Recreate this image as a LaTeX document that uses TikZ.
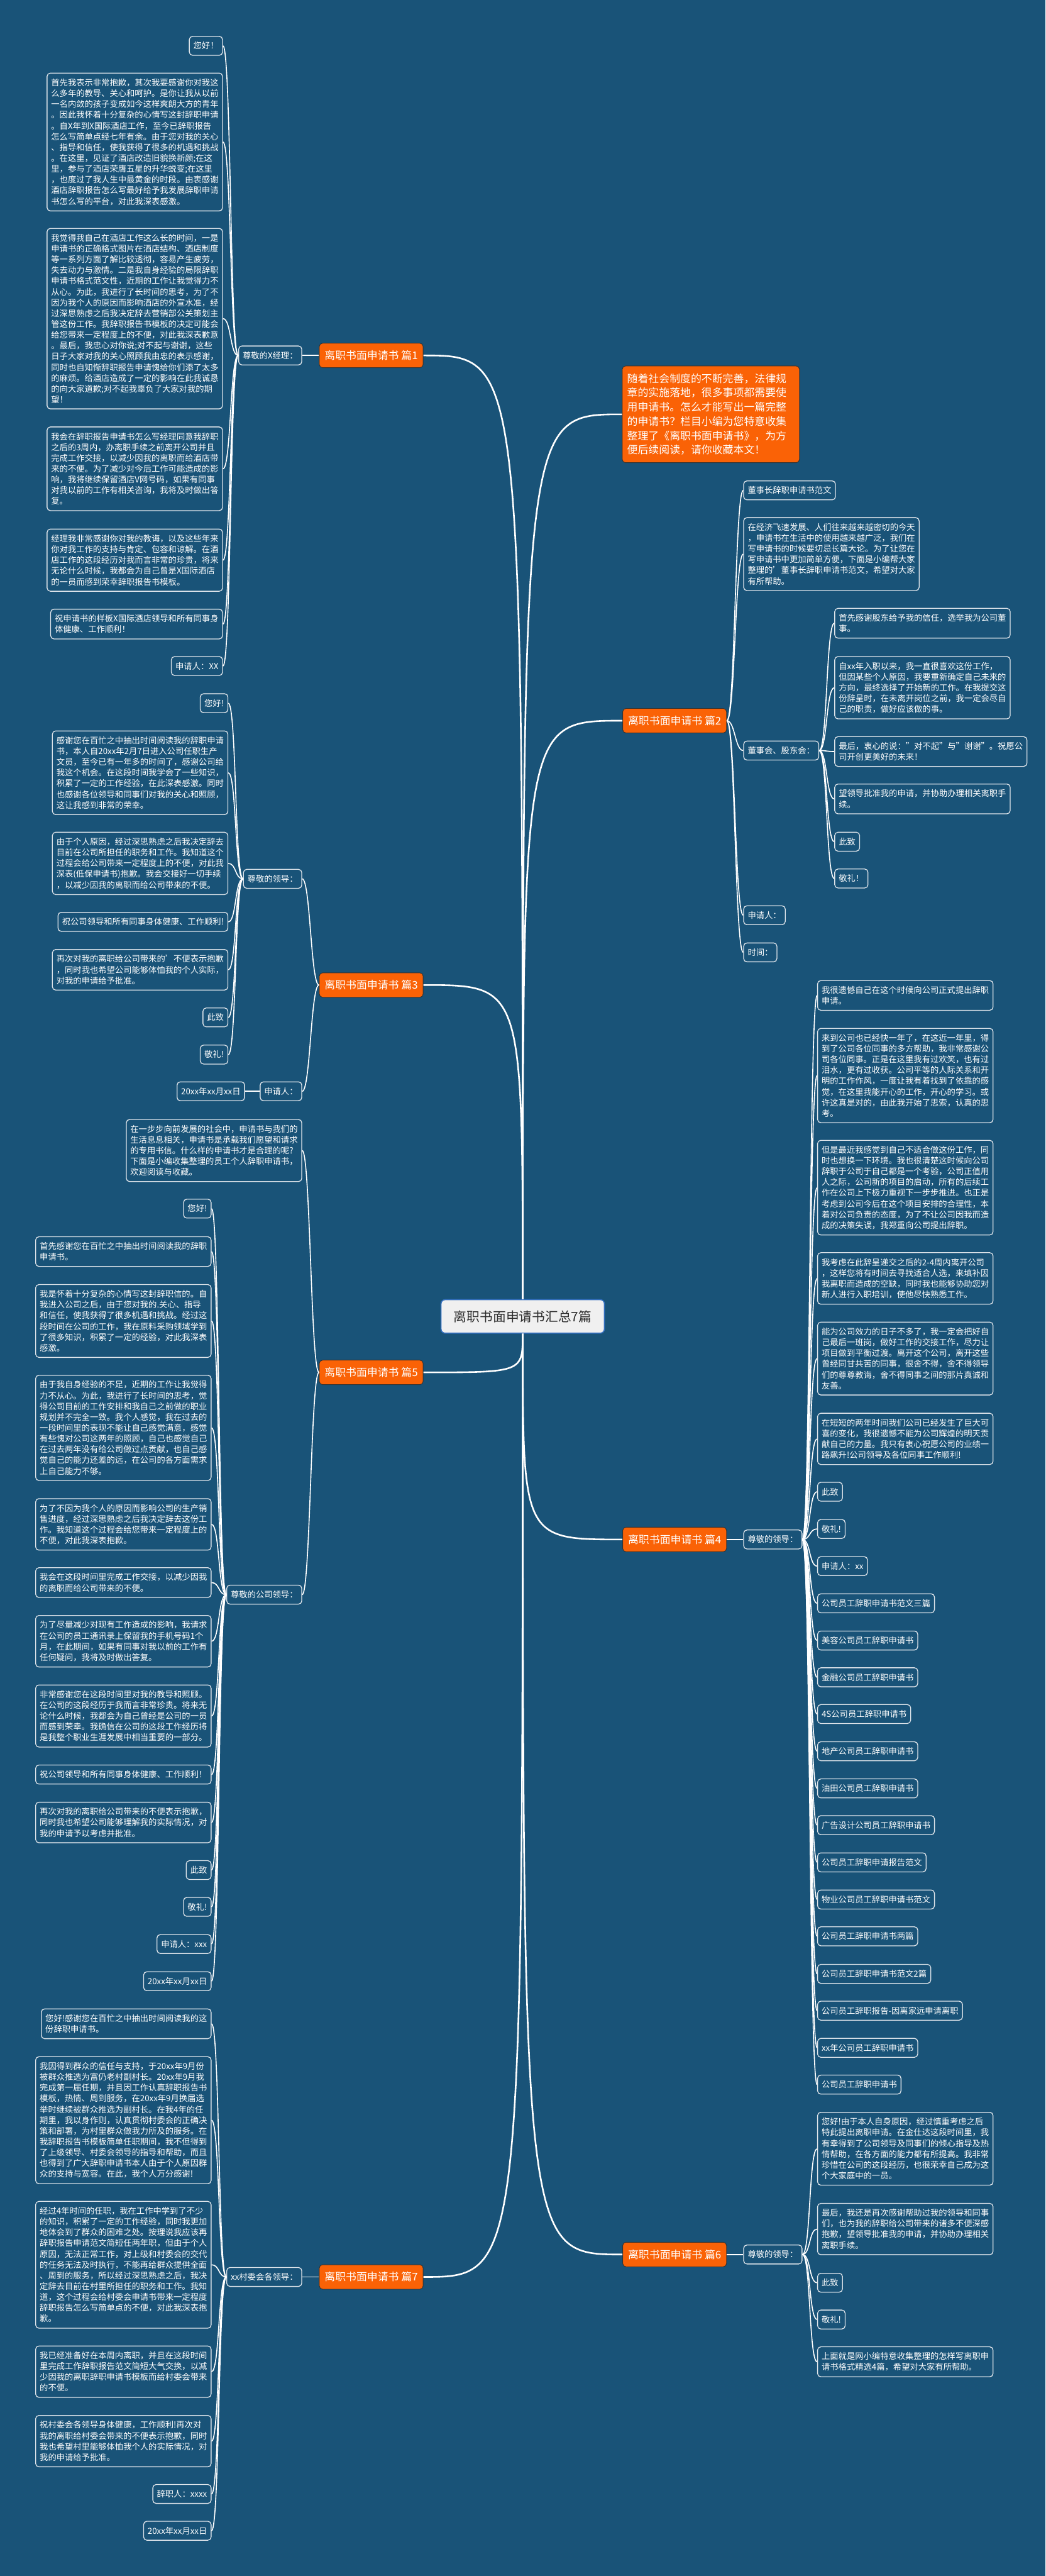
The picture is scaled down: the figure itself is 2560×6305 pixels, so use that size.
\documentclass[tikz,border=0pt]{standalone}
\usepackage{fontspec}
\setmainfont{Noto Sans CJK SC}
\usepackage{tikz}
\definecolor{bgblue}{RGB}{25,83,120}
\definecolor{boxline}{RGB}{222,228,234}
\definecolor{branchorange}{RGB}{250,98,6}
\definecolor{rootgray}{RGB}{240,240,240}
\definecolor{rootblue}{RGB}{52,112,192}
\definecolor{roottext}{RGB}{45,45,45}
\newcommand{\boxfont}{\fontsize{11.66pt}{15.02pt}\selectfont}
\newcommand{\branchfont}{\fontsize{14.8pt}{18pt}\selectfont}
\newcommand{\rootfont}{\fontsize{18.2pt}{22pt}\selectfont}
\newcommand{\introfont}{\fontsize{14.8pt}{19.92pt}\selectfont}

\begin{document}
\begin{tikzpicture}
	[x=0.02cm,y=-0.02cm,
	leaf/.style={draw=boxline,line width=0.04cm,rounded corners=0.16cm,text=white,align=left,inner xsep=0.2cm,inner ysep=7.8pt,font=\boxfont},
	branch/.style={fill=branchorange,draw=black!80,line width=0.03cm,rounded corners=0.16cm,text=white,font=\branchfont,inner xsep=0.26cm,minimum height=1.2cm},
	root/.style={fill=rootgray,draw=rootblue,line width=0.05cm,rounded corners=0.2cm,text=roottext,font=\rootfont,minimum width=8cm,minimum height=1.64cm},
	intro/.style={fill=branchorange,draw=black!80,line width=0.03cm,rounded corners=0.16cm,text=white,font=\introfont,align=left,text width=8.2cm,inner xsep=0.24cm,inner ysep=10.5pt},
	trunk/.style={draw=white,line width=0.08cm},
	link/.style={draw=white,line width=0.05cm},
	tol/.style={to path={.. controls +(-20,0) and +(20,0) .. (\tikztotarget)}},
	tor/.style={to path={.. controls +(20,0) and +(-20,0) .. (\tikztotarget)}}]
	\fill[bgblue] (0,0) rectangle (2560,6305);
	\node[root] (root) at (1280,3222) {离职书面申请书汇总7篇};

	\node[branch] (p1) at (909,870) {离职书面申请书 篇1};
	\node[leaf,anchor=east] (label1) at (740,870) {尊敬的X经理：};
	\node[leaf,anchor=north east] (n1a) at (546,88) {您好！};
	\node[leaf,anchor=north east] (n1b) at (546,178) {首先我表示非常抱歉，其次我要感谢你对我这\\么多年的教导、关心和呵护。是你让我从以前\\一名内敛的孩子变成如今这样爽朗大方的青年\\。因此我怀着十分复杂的心情写这封辞职申请\\。自X年到X国际酒店工作，至今已辞职报告\\怎么写简单点经七年有余。由于您对我的关心\\、指导和信任，使我获得了很多的机遇和挑战\\。在这里，见证了酒店改造旧貌换新颜;在这\\里，参与了酒店荣膺五星的升华蜕变;在这里\\，也度过了我人生中最黄金的时段。由衷感谢\\酒店辞职报告怎么写最好给予我发展辞职申请\\书怎么写的平台，对此我深表感激。};
	\node[leaf,anchor=north east] (n1c) at (546,558) {我觉得我自己在酒店工作这么长的时间，一是\\申请书的正确格式图片在酒店结构、酒店制度\\等一系列方面了解比较透彻，容易产生疲劳，\\失去动力与激情。二是我自身经验的局限辞职\\申请书格式范文性，近期的工作让我觉得力不\\从心。为此，我进行了长时间的思考，为了不\\因为我个人的原因而影响酒店的外宣水准，经\\过深思熟虑之后我决定辞去营销部公关策划主\\管这份工作。我辞职报告书模板的决定可能会\\给您带来一定程度上的不便，对此我深表歉意\\。最后，我忠心对你说;对不起与谢谢，这些\\日子大家对我的关心照顾我由忠的表示感谢，\\同时也自知惭辞职报告申请愧给你们添了太多\\的麻烦。给酒店造成了一定的影响在此我诚恳\\的向大家道歉;对不起我辜负了大家对我的期\\望！};
	\node[leaf,anchor=north east] (n1d) at (546,1044) {我会在辞职报告申请书怎么写经理同意我辞职\\之后的3周内，办离职手续之前离开公司并且\\完成工作交接，以减少因我的离职而给酒店带\\来的不便。为了减少对今后工作可能造成的影\\响，我将继续保留酒店V网号码，如果有同事\\对我以前的工作有相关咨询，我将及时做出答\\复。};
	\node[leaf,anchor=north east] (n1e) at (546,1294) {经理我非常感谢你对我的教诲，以及这些年来\\你对我工作的支持与肯定、包容和谅解。在酒\\店工作的这段经历对我而言非常的珍贵，将来\\无论什么时候，我都会为自己曾是X国际酒店\\的一员而感到荣幸辞职报告书模板。};
	\node[leaf,anchor=north east] (n1f) at (546,1490) {祝申请书的样板X国际酒店领导和所有同事身\\体健康、工作顺利！};
	\node[leaf,anchor=north east] (n1g) at (546,1606) {申请人：XX};

	\node[branch] (p3) at (909,2411) {离职书面申请书 篇3};
	\node[leaf,anchor=east] (label3) at (740,2151) {尊敬的领导：};
	\node[leaf,anchor=east] (n3h) at (740,2671) {申请人：};
	\node[leaf,anchor=east] (n3i) at (600,2671) {20xx年xx月xx日};
	\node[leaf,anchor=north east] (n3a) at (559,1697) {您好!};
	\node[leaf,anchor=north east] (n3b) at (559,1788) {感谢您在百忙之中抽出时间阅读我的辞职申请\\书，本人自20xx年2月7日进入公司任职生产\\文员，至今已有一年多的时间了，感谢公司给\\我这个机会。在这段时间我学会了一些知识，\\积累了一定的工作经验，在此深表感激。同时\\也感谢各位领导和同事们对我的关心和照顾，\\这让我感到非常的荣幸。};
	\node[leaf,anchor=north east] (n3c) at (559,2036) {由于个人原因，经过深思熟虑之后我决定辞去\\目前在公司所担任的职务和工作。我知道这个\\过程会给公司带来一定程度上的不便，对此我\\深表(低保申请书)抱歉。我会交接好一切手续\\，以减少因我的离职而给公司带来的不便。};
	\node[leaf,anchor=north east] (n3d) at (559,2232) {祝公司领导和所有同事身体健康、工作顺利!};
	\node[leaf,anchor=north east] (n3e) at (559,2323) {再次对我的离职给公司带来的'不便表示抱歉\\，同时我也希望公司能够体恤我的个人实际，\\对我的申请给予批准。};
	\node[leaf,anchor=north east] (n3f) at (559,2466) {此致};
	\node[leaf,anchor=north east] (n3g) at (559,2557) {敬礼!};

	\node[branch] (p5) at (909,3359) {离职书面申请书 篇5};
	\node[leaf,anchor=north east] (n5x) at (740,2739) {在一步步向前发展的社会中，申请书与我们的\\生活息息相关，申请书是承载我们愿望和请求\\的专用书信。什么样的申请书才是合理的呢?\\下面是小编收集整理的员工个人辞职申请书，\\欢迎阅读与收藏。};
	\node[leaf,anchor=east] (label5) at (740,3903) {尊敬的公司领导：};
	\node[leaf,anchor=north east] (n5a) at (518,2934) {您好!};
	\node[leaf,anchor=north east] (n5b) at (518,3026) {首先感谢您在百忙之中抽出时间阅读我的辞职\\申请书。};
	\node[leaf,anchor=north east] (n5c) at (518,3143) {我是怀着十分复杂的心情写这封辞职信的。自\\我进入公司之后，由于您对我的.关心、指导\\和信任，使我获得了很多机遇和挑战。经过这\\段时间在公司的工作，我在原料采购领域学到\\了很多知识，积累了一定的经验，对此我深表\\感激。};
	\node[leaf,anchor=north east] (n5d) at (518,3365) {由于我自身经验的不足，近期的工作让我觉得\\力不从心。为此，我进行了长时间的思考，觉\\得公司目前的工作安排和我自己之前做的职业\\规划并不完全一致。我个人感觉，我在过去的\\一段时间里的表现不能让自己感觉满意，感觉\\有些愧对公司这两年的照顾，自己也感觉自己\\在过去两年没有给公司做过点贡献，也自己感\\觉自己的能力还差的远，在公司的各方面需求\\上自己能力不够。};
	\node[leaf,anchor=north east] (n5e) at (518,3667) {为了不因为我个人的原因而影响公司的生产销\\售进度，经过深思熟虑之后我决定辞去这份工\\作。我知道这个过程会给您带来一定程度上的\\不便，对此我深表抱歉。};
	\node[leaf,anchor=north east] (n5f) at (518,3836) {我会在这段时间里完成工作交接，以减少因我\\的离职而给公司带来的不便。};
	\node[leaf,anchor=north east] (n5g) at (518,3953) {为了尽量减少对现有工作造成的影响，我请求\\在公司的员工通讯录上保留我的手机号码1个\\月，在此期间，如果有同事对我以前的工作有\\任何疑问，我将及时做出答复。};
	\node[leaf,anchor=north east] (n5h) at (518,4123) {非常感谢您在这段时间里对我的教导和照顾。\\在公司的这段经历于我而言非常珍贵。将来无\\论什么时候，我都会为自己曾经是公司的一员\\而感到荣幸。我确信在公司的这段工作经历将\\是我整个职业生涯发展中相当重要的一部分。};
	\node[leaf,anchor=north east] (n5i) at (518,4319) {祝公司领导和所有同事身体健康、工作顺利！};
	\node[leaf,anchor=north east] (n5j) at (518,4410) {再次对我的离职给公司带来的不便表示抱歉，\\同时我也希望公司能够理解我的实际情况，对\\我的申请予以考虑并批准。};
	\node[leaf,anchor=north east] (n5k) at (518,4553) {此致};
	\node[leaf,anchor=north east] (n5l) at (518,4643) {敬礼!};
	\node[leaf,anchor=north east] (n5m) at (518,4734) {申请人：xxx};
	\node[leaf,anchor=north east] (n5n) at (518,4825) {20xx年xx月xx日};

	\node[branch] (p7) at (909,5573) {离职书面申请书 篇7};
	\node[leaf,anchor=east] (label7) at (740,5573) {xx村委会各领导：};
	\node[leaf,anchor=north east] (n7a) at (518,4916) {您好!感谢您在百忙之中抽出时间阅读我的这\\份辞职申请书。};
	\node[leaf,anchor=north east] (n7b) at (518,5033) {我因得到群众的信任与支持，于20xx年9月份\\被群众推选为富仍老村副村长。20xx年9月我\\完成第一届任期，并且因工作认真辞职报告书\\模板，热情、周到服务，在20xx年9月换届选\\举时继续被群众推选为副村长。在我4年的任\\期里，我以身作则，认真贯彻村委会的正确决\\策和部署，为村里群众做我力所及的服务。在\\我辞职报告书模板简单任职期间，我不但得到\\了上级领导、村委会领导的指导和帮助，而且\\也得到了广大辞职申请书本人由于个人原因群\\众的支持与宽容。在此，我个人万分感谢!};
	\node[leaf,anchor=north east] (n7c) at (518,5387) {经过4年时间的任职，我在工作中学到了不少\\的知识，积累了一定的工作经验，同时我更加\\地体会到了群众的困难之处。按理说我应该再\\辞职报告申请范文简短任两年职，但由于个人\\原因，无法正常工作，对上级和村委会的交代\\的任务无法及时执行，不能再给群众提供全面\\、周到的服务，所以经过深思熟虑之后，我决\\定辞去目前在村里所担任的职务和工作。我知\\道，这个过程会给村委会申请书带来一定程度\\辞职报告怎么写简单点的不便，对此我深表抱\\歉。};
	\node[leaf,anchor=north east] (n7d) at (518,5741) {我已经准备好在本周内离职，并且在这段时间\\里完成工作辞职报告范文简短大气交换，以减\\少因我的离职辞职申请书模板而给村委会带来\\的不便。};
	\node[leaf,anchor=north east] (n7e) at (518,5911) {祝村委会各领导身体健康，工作顺利!再次对\\我的离职给村委会带来的不便表示抱歉，同时\\我也希望村里能够体恤我个人的实际情况，对\\我的申请给予批准。};
	\node[leaf,anchor=north east] (n7f) at (518,6080) {辞职人：xxxx};
	\node[leaf,anchor=north east] (n7g) at (518,6170) {20xx年xx月xx日};

	\node[intro,anchor=north west] (intro) at (1523,895) {随着社会制度的不断完善，法律规\\章的实施落地，很多事项都需要使\\用申请书。怎么才能写出一篇完整\\的申请书？栏目小编为您特意收集\\整理了《离职书面申请书》，为方\\便后续阅读，请你收藏本文！};

	\node[branch] (p2) at (1652,1764) {离职书面申请书 篇2};
	\node[leaf,anchor=north west] (n2a) at (1820,1176) {董事长辞职申请书范文};
	\node[leaf,anchor=north west] (n2b) at (1820,1266) {在经济飞速发展、人们往来越来越密切的今天\\，申请书在生活中的使用越来越广泛，我们在\\写申请书的时候要切忌长篇大论。为了让您在\\写申请书中更加简单方便，下面是小编帮大家\\整理的'董事长辞职申请书范文，希望对大家\\有所帮助。};
	\node[leaf,anchor=west] (label2) at (1820,1837) {董事会、股东会：};
	\node[leaf,anchor=north west] (n2c) at (2043,1488) {首先感谢股东给予我的信任，选举我为公司董\\事。};
	\node[leaf,anchor=north west] (n2d) at (2043,1606) {自xx年入职以来，我一直很喜欢这份工作，\\但因某些个人原因，我要重新确定自己未来的\\方向，最终选择了开始新的工作。在我提交这\\份辞呈时，在未离开岗位之前，我一定会尽自\\己的职责，做好应该做的事。};
	\node[leaf,anchor=north west] (n2e) at (2043,1802) {最后，衷心的说："对不起"与"谢谢"。祝愿公\\司开创更美好的未来！};
	\node[leaf,anchor=north west] (n2f) at (2043,1918) {望领导批准我的申请，并协助办理相关离职手\\续。};
	\node[leaf,anchor=north west] (n2g) at (2043,2036) {此致};
	\node[leaf,anchor=north west] (n2h) at (2043,2126) {敬礼！};
	\node[leaf,anchor=north west] (n2i) at (1820,2216) {申请人：};
	\node[leaf,anchor=north west] (n2j) at (1820,2307) {时间：};

	\node[branch] (p4) at (1652,3768) {离职书面申请书 篇4};
	\node[leaf,anchor=west] (label4) at (1820,3768) {尊敬的领导：};
	\node[leaf,anchor=north west] (n4a) at (2001,2399) {我很遗憾自己在这个时候向公司正式提出辞职\\申请。};
	\node[leaf,anchor=north west] (n4b) at (2001,2516) {来到公司也已经快一年了，在这近一年里，得\\到了公司各位同事的多方帮助，我非常感谢公\\司各位同事。正是在这里我有过欢笑，也有过\\泪水，更有过收获。公司平等的人际关系和开\\明的工作作风，一度让我有着找到了依靠的感\\觉，在这里我能开心的工作，开心的学习。或\\许这真是对的，由此我开始了思索，认真的思\\考。};
	\node[leaf,anchor=north west] (n4c) at (2001,2790) {但是最近我感觉到自己不适合做这份工作，同\\时也想换一下环境。我也很清楚这时候向公司\\辞职于公司于自己都是一个考验，公司正值用\\人之际，公司新的项目的启动，所有的后续工\\作在公司上下极力重视下一步步推进。也正是\\考虑到公司今后在这个项目安排的合理性，本\\着对公司负责的态度，为了不让公司因我而造\\成的决策失误，我郑重向公司提出辞职。};
	\node[leaf,anchor=north west] (n4d) at (2001,3065) {我考虑在此辞呈递交之后的2-4周内离开公司\\，这样您将有时间去寻找适合人选，来填补因\\我离职而造成的空缺，同时我也能够协助您对\\新人进行入职培训，使他尽快熟悉工作。};
	\node[leaf,anchor=north west] (n4e) at (2001,3235) {能为公司效力的日子不多了，我一定会把好自\\己最后一班岗，做好工作的交接工作，尽力让\\项目做到平衡过渡。离开这个公司，离开这些\\曾经同甘共苦的同事，很舍不得，舍不得领导\\们的尊尊教诲，舍不得同事之间的那片真诚和\\友善。};
	\node[leaf,anchor=north west] (n4f) at (2001,3458) {在短短的两年时间我们公司已经发生了巨大可\\喜的变化，我很遗憾不能为公司辉煌的明天贡\\献自己的力量。我只有衷心祝愿公司的业绩一\\路飙升!公司领导及各位同事工作顺利!};
	\node[leaf,anchor=north west] (n4g) at (2001,3627) {此致};
	\node[leaf,anchor=north west] (n4h) at (2001,3718) {敬礼!};
	\node[leaf,anchor=north west] (n4i) at (2001,3809) {申请人：xx};
	\node[leaf,anchor=north west] (n4j) at (2001,3900) {公司员工辞职申请书范文三篇};
	\node[leaf,anchor=north west] (n4k) at (2001,3991) {美容公司员工辞职申请书};
	\node[leaf,anchor=north west] (n4l) at (2001,4081) {金融公司员工辞职申请书};
	\node[leaf,anchor=north west] (n4m) at (2001,4171) {4S公司员工辞职申请书};
	\node[leaf,anchor=north west] (n4n) at (2001,4262) {地产公司员工辞职申请书};
	\node[leaf,anchor=north west] (n4o) at (2001,4353) {油田公司员工辞职申请书};
	\node[leaf,anchor=north west] (n4p) at (2001,4443) {广告设计公司员工辞职申请书};
	\node[leaf,anchor=north west] (n4q) at (2001,4534) {公司员工辞职申请报告范文};
	\node[leaf,anchor=north west] (n4r) at (2001,4625) {物业公司员工辞职申请书范文};
	\node[leaf,anchor=north west] (n4s) at (2001,4715) {公司员工辞职申请书两篇};
	\node[leaf,anchor=north west] (n4t) at (2001,4807) {公司员工辞职申请书范文2篇};
	\node[leaf,anchor=north west] (n4u) at (2001,4897) {公司员工辞职报告-因离家远申请离职};
	\node[leaf,anchor=north west] (n4v) at (2001,4988) {xx年公司员工辞职申请书};
	\node[leaf,anchor=north west] (n4w) at (2001,5078) {公司员工辞职申请书};

	\node[branch] (p6) at (1652,5518) {离职书面申请书 篇6};
	\node[leaf,anchor=west] (label6) at (1820,5518) {尊敬的领导：};
	\node[leaf,anchor=north west] (n6a) at (2001,5169) {您好!由于本人自身原因，经过慎重考虑之后\\特此提出离职申请。在金仕达这段时间里，我\\有幸得到了公司领导及同事们的倾心指导及热\\情帮助，在各方面的能力都有所提高。我非常\\珍惜在公司的这段经历，也很荣幸自己成为这\\个大家庭中的一员。};
	\node[leaf,anchor=north west] (n6b) at (2001,5392) {最后，我还是再次感谢帮助过我的领导和同事\\们，也为我的辞职给公司带来的诸多不便深感\\抱歉，望领导批准我的申请，并协助办理相关\\离职手续。};
	\node[leaf,anchor=north west] (n6c) at (2001,5563) {此致};
	\node[leaf,anchor=north west] (n6d) at (2001,5653) {敬礼!};
	\node[leaf,anchor=north west] (n6e) at (2001,5743) {上面就是网小编特意收集整理的怎样写离职申\\请书格式精选4篇，希望对大家有所帮助。};

	\draw[trunk] (root.north) .. controls (root.north |- p1.east) and (root.north |- p1.east) .. (p1.east);
	\draw[trunk] (root.north) .. controls (root.north |- p3.east) and (root.north |- p3.east) .. (p3.east);
	\draw[trunk] (root.south) .. controls (root.south |- p5.east) and (root.south |- p5.east) .. (p5.east);
	\draw[trunk] (root.south) .. controls (root.south |- p7.east) and (root.south |- p7.east) .. (p7.east);
	\draw[trunk] (root.north) .. controls (root.north |- intro.west) and (root.north |- intro.west) .. (intro.west);
	\draw[trunk] (root.north) .. controls (root.north |- p2.west) and (root.north |- p2.west) .. (p2.west);
	\draw[trunk] (root.south) .. controls (root.south |- p4.west) and (root.south |- p4.west) .. (p4.west);
	\draw[trunk] (root.south) .. controls (root.south |- p6.west) and (root.south |- p6.west) .. (p6.west);

	\draw[link] (p1.west) -- (label1.east);
	\draw[link] (label1.west) edge[tol] (n1a.east) edge[tol] (n1b.east) edge[tol] (n1c.east) edge[tol] (n1d.east) edge[tol] (n1e.east) edge[tol] (n1f.east) edge[tol] (n1g.east);
	\draw[link] (p3.west) edge[tol] (label3.east) edge[tol] (n3h.east);
	\draw[link] (n3h.west) -- (n3i.east);
	\draw[link] (label3.west) edge[tol] (n3a.east) edge[tol] (n3b.east) edge[tol] (n3c.east) edge[tol] (n3d.east) edge[tol] (n3e.east) edge[tol] (n3f.east) edge[tol] (n3g.east);
	\draw[link] (p5.west) edge[tol] (n5x.east) edge[tol] (label5.east);
	\draw[link] (label5.west) edge[tol] (n5a.east) edge[tol] (n5b.east) edge[tol] (n5c.east) edge[tol] (n5d.east) edge[tol] (n5e.east) edge[tol] (n5f.east) edge[tol] (n5g.east) edge[tol] (n5h.east) edge[tol] (n5i.east) edge[tol] (n5j.east) edge[tol] (n5k.east) edge[tol] (n5l.east) edge[tol] (n5m.east) edge[tol] (n5n.east);
	\draw[link] (p7.west) -- (label7.east);
	\draw[link] (label7.west) edge[tol] (n7a.east) edge[tol] (n7b.east) edge[tol] (n7c.east) edge[tol] (n7d.east) edge[tol] (n7e.east) edge[tol] (n7f.east) edge[tol] (n7g.east);

	\draw[link] (p2.east) edge[tor] (n2a.west) edge[tor] (n2b.west) edge[tor] (label2.west) edge[tor] (n2i.west) edge[tor] (n2j.west);
	\draw[link] (label2.east) edge[tor] (n2c.west) edge[tor] (n2d.west) edge[tor] (n2e.west) edge[tor] (n2f.west) edge[tor] (n2g.west) edge[tor] (n2h.west);
	\draw[link] (p4.east) -- (label4.west);
	\draw[link] (label4.east) edge[tor] (n4a.west) edge[tor] (n4b.west) edge[tor] (n4c.west) edge[tor] (n4d.west) edge[tor] (n4e.west) edge[tor] (n4f.west) edge[tor] (n4g.west) edge[tor] (n4h.west) edge[tor] (n4i.west) edge[tor] (n4j.west) edge[tor] (n4k.west) edge[tor] (n4l.west) edge[tor] (n4m.west) edge[tor] (n4n.west) edge[tor] (n4o.west) edge[tor] (n4p.west) edge[tor] (n4q.west) edge[tor] (n4r.west) edge[tor] (n4s.west) edge[tor] (n4t.west) edge[tor] (n4u.west) edge[tor] (n4v.west) edge[tor] (n4w.west);
	\draw[link] (p6.east) -- (label6.west);
	\draw[link] (label6.east) edge[tor] (n6a.west) edge[tor] (n6b.west) edge[tor] (n6c.west) edge[tor] (n6d.west) edge[tor] (n6e.west);
\end{tikzpicture}
\end{document}
